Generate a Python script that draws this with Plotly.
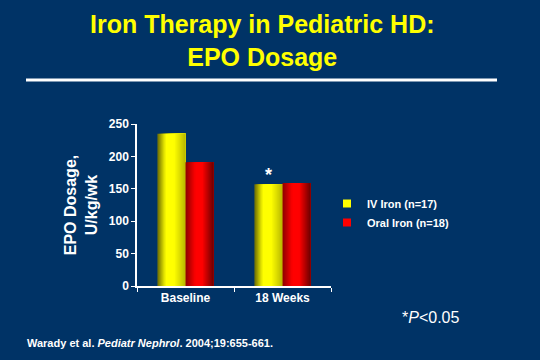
import plotly.graph_objects as go

categories = ["Baseline", "18 Weeks"]
iv_iron = [235, 157]
oral_iron = [191, 159]
series_names = ["IV Iron (n=17)", "Oral Iron (n=18)"]
series_rgb = [(255, 255, 0), (255, 0, 0)]
y_ticks = [0, 50, 100, 150, 200, 250]

BG = "#003366"
FONT = "Arial, Liberation Sans, sans-serif"

L, R, T, B = 137, 209, 124, 74
PW, PH = 540 - L - R, 360 - T - B

def px(x):
    return (x - L) / PW

def py(y):
    return 1 + (T - y) / PH

# brightness profiles across each bar (left -> right), to mimic the shaded cylinders
profiles = [
    [(0.0, 0.42), (0.3, 1.0), (0.6, 1.0), (1.0, 0.72)],
    [(0.0, 0.55), (0.35, 1.0), (0.6, 1.0), (1.0, 0.42)],
]

def shade(profile, t):
    for (t0, v0), (t1, v1) in zip(profile[:-1], profile[1:]):
        if t0 <= t <= t1:
            return v0 + (v1 - v0) * (t - t0) / (t1 - t0)
    return profile[-1][1]

BAR_W = 0.289
NSTRIP = 14
fig = go.Figure()
for i, (name, vals, rgb) in enumerate(zip(series_names, [iv_iron, oral_iron], series_rgb)):
    start = -BAR_W if i == 0 else 0.0
    sw = BAR_W / NSTRIP
    for k in range(NSTRIP):
        t = (k + 0.5) / NSTRIP
        v = shade(profiles[i], t)
        col = "rgb(%d,%d,%d)" % tuple(int(c * v) for c in rgb)
        # each strip runs to the bar's right edge; later strips cover earlier ones
        fig.add_trace(go.Bar(x=categories, y=vals, name=name, showlegend=False,
                             offset=start + k * sw, width=(NSTRIP - k) * sw, hoverinfo="skip",
                             marker=dict(color=col, line=dict(width=0))))
    fig.add_trace(go.Scatter(x=[None], y=[None], mode="markers", name=name,
                             marker=dict(symbol="square", size=8, color="rgb(%d,%d,%d)" % rgb)))

fig.update_layout(
    width=540, height=360,
    margin=dict(l=L, r=R, t=T, b=B),
    paper_bgcolor=BG, plot_bgcolor=BG,
    barmode="overlay",
    font=dict(family=FONT, color="white", size=12, weight="bold"),
    showlegend=True,
    legend=dict(x=px(327), y=py(189), xanchor="left", yanchor="top",
                bgcolor="rgba(0,0,0,0)", font=dict(size=11, color="white", weight="bold"),
                itemwidth=30, tracegroupgap=0),
    xaxis=dict(showline=True, linecolor="white", linewidth=1.5, ticks="outside",
               tickson="boundaries", ticklen=4, tickcolor="white",
               tickfont=dict(size=12, color="white", weight="bold"),
               range=[-0.5, 1.5], showgrid=False),
    yaxis=dict(showline=True, linecolor="white", linewidth=1.5, ticks="outside",
               ticklen=4, tickcolor="white", range=[0, 250], tickvals=y_ticks,
               tickfont=dict(size=12, color="white", weight="bold"),
               showgrid=False, zeroline=False,
               title=dict(text="EPO Dosage,<br>U/kg/wk", standoff=7,
                          font=dict(size=16, color="white", weight="bold"))),
)

# Title
fig.add_annotation(text="Iron Therapy in Pediatric HD:<br>EPO Dosage", xref="paper", yref="paper",
                   x=px(262), y=py(41), xanchor="center", yanchor="middle", showarrow=False,
                   font=dict(size=25, color="#FFFF00", weight="bold", family=FONT))
fig.add_shape(type="line", xref="paper", yref="paper", x0=px(26), x1=px(497),
              y0=py(80), y1=py(80), line=dict(color="white", width=3))

# significance star
fig.add_annotation(x=categories[1], y=iv_iron[1], xshift=-14, yshift=-3, text="*",
                   showarrow=False, yanchor="bottom",
                   font=dict(size=18, color="white", weight="bold", family=FONT))

fig.add_annotation(text="*<i>P</i><0.05", xref="paper", yref="paper",
                   x=px(400), y=py(317), xanchor="left", yanchor="middle", showarrow=False,
                   font=dict(size=16, color="white", weight="normal", family=FONT))
fig.add_annotation(text="Warady et al. <i>Pediatr Nephrol</i>. 2004;19:655-661.", xref="paper", yref="paper",
                   x=px(25), y=py(343), xanchor="left", yanchor="middle", showarrow=False,
                   font=dict(size=11, color="white", weight="bold", family=FONT))

fig.write_html("out.html", config={"displayModeBar": False},
               post_script="document.body.style.margin='0';document.body.style.background='%s';" % BG)
